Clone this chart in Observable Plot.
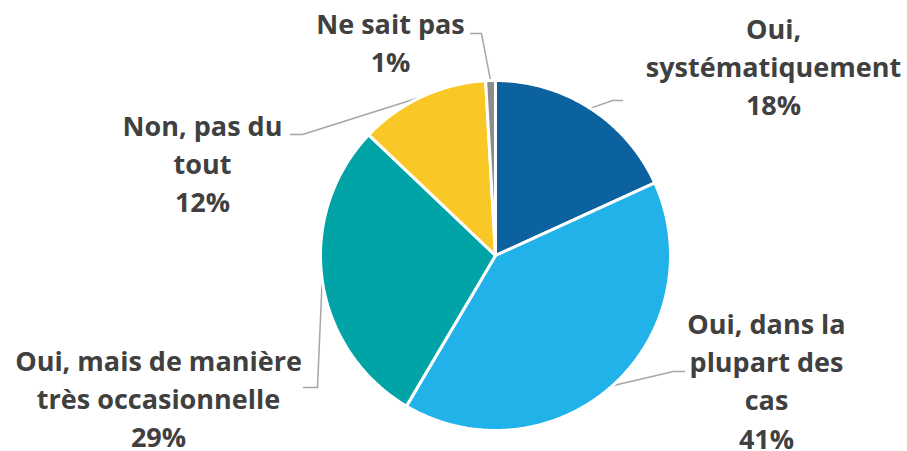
<!DOCTYPE html>
<html>
<head>
<meta charset="utf-8">
<script src="https://cdn.jsdelivr.net/npm/d3@7"></script>
<script src="https://cdn.jsdelivr.net/npm/@observablehq/plot@0.6"></script>
<style>
  html, body { margin: 0; padding: 0; background: #fff; }
  #chart { width: 907px; height: 451px; }
</style>
</head>
<body>
<div id="chart"></div>
<script>
// ---- Data ----
const categories = [
  "Oui, systématiquement",
  "Oui, dans la plupart des cas",
  "Oui, mais de manière très occasionnelle",
  "Non, pas du tout",
  "Ne sait pas"
];
const values = [18.2, 40.3, 28.6, 12.0, 0.9];
const percentLabels = ["18%", "41%", "29%", "12%", "1%"];
const labelLines = [
  ["Oui,", "systématiquement"],
  ["Oui, dans la", "plupart des", "cas"],
  ["Oui, mais de manière", "très occasionnelle"],
  ["Non, pas du", "tout"],
  ["Ne sait pas"]
];
const colors = ["#0B629E", "#22B2EA", "#00A3A6", "#FAC826", "#8C8C8C"];

// ---- Layout (pixels) ----
const W = 907, H = 451, CX = 495, CY = 255, R = 175;
const FS = 27, LH = 38.5;
// label block: center x, first baseline y; leader elbow and end points
const labelLayout = [
  {x: 773, y: 38,  elbow: [612, 100], end: [622, 100]},
  {x: 766, y: 333, elbow: [673, 371], end: [684, 371]},
  {x: 158, y: 370, elbow: [317, 387], end: [303, 387]},
  {x: 202, y: 135, elbow: [302, 134], end: [290, 134]},
  {x: 390, y: 33,  elbow: [481, 33],  end: [470, 33]}
];
const toX = px => (px - CX) / R;
const toY = py => (CY - py) / R;

// ---- Pie geometry ----
const pie = d3.pie().sort(null).value(d => d.value).startAngle(0).endAngle(2 * Math.PI);
const arcs = pie(categories.map((c, i) => ({cat: c, value: values[i], i})));

const slicePts = [];
arcs.forEach(a => {
  slicePts.push({cat: a.data.cat, x: 0, y: 0});
  const n = Math.max(2, Math.ceil((a.endAngle - a.startAngle) / 0.01));
  for (let k = 0; k <= n; k++) {
    const t = a.startAngle + (a.endAngle - a.startAngle) * k / n;
    slicePts.push({cat: a.data.cat, x: Math.sin(t), y: Math.cos(t)});
  }
});

const leaderPts = [];
const labelData = [];
arcs.forEach((a, i) => {
  const mid = (a.startAngle + a.endAngle) / 2;
  const L = labelLayout[i];
  leaderPts.push({cat: a.data.cat, x: Math.sin(mid), y: Math.cos(mid)});
  leaderPts.push({cat: a.data.cat, x: toX(L.elbow[0]), y: toY(L.elbow[1])});
  leaderPts.push({cat: a.data.cat, x: toX(L.end[0]), y: toY(L.end[1])});
  labelData.push({
    text: [...labelLines[i], percentLabels[i]].join("\n"),
    x: toX(L.x),
    // Plot places the first line's baseline at 0.71 * lineHeight below y for lineAnchor "top"
    y: toY(L.y - 0.71 * LH)
  });
});

const chart = Plot.plot({
  width: W,
  height: H,
  margin: 0,
  x: {domain: [toX(0), toX(W)], axis: null},
  y: {domain: [toY(H), toY(0)], axis: null},
  color: {domain: categories, range: colors},
  style: {fontFamily: "'Open Sans', sans-serif", background: "#fff"},
  marks: [
    Plot.line(leaderPts, {x: "x", y: "y", z: "cat", stroke: "#A6A6A6", strokeWidth: 1.5}),
    Plot.line(slicePts, {x: "x", y: "y", z: "cat", fill: "cat", stroke: "#ffffff", strokeWidth: 3, strokeLinejoin: "round", curve: "linear-closed"}),
    Plot.text(labelData, {
      x: "x", y: "y", text: "text",
      lineAnchor: "top", textAnchor: "middle",
      lineHeight: LH / FS,
      fontSize: FS, fontWeight: "bold", fill: "#404040"
    })
  ]
});
document.getElementById("chart").appendChild(chart);
</script>
</body>
</html>
